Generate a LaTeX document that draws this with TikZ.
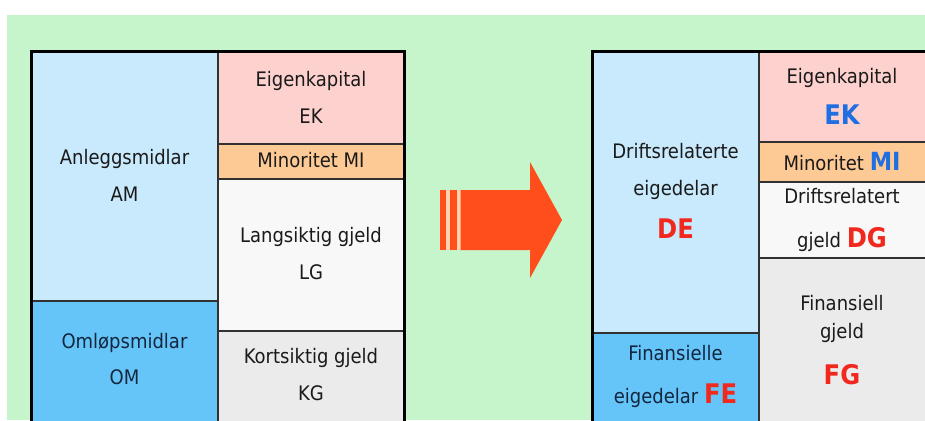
\documentclass[tikz,border=0pt]{standalone}
\usepackage{fontspec}
\setmainfont{DejaVu Sans Condensed}
\definecolor{bg}{HTML}{C6F5CB}
\definecolor{lightblue}{HTML}{C9E9FC}
\definecolor{midblue}{HTML}{66C5F8}
\definecolor{pinkcell}{HTML}{FDD1CE}
\definecolor{orangecell}{HTML}{FDC994}
\definecolor{whitecell}{HTML}{F8F8F8}
\definecolor{graycell}{HTML}{EBEBEB}
\definecolor{ink}{HTML}{1A1A1A}
\definecolor{navyink}{HTML}{13263F}
\definecolor{keyblue}{HTML}{1F6FE3}
\definecolor{keyred}{HTML}{F0281E}
\definecolor{arrowred}{HTML}{FF4E1C}
\definecolor{arrowgap}{HTML}{FFD2AE}
\begin{document}
\begin{tikzpicture}[x=1pt,y=-1pt,
  txt/.style={anchor=base, inner sep=0pt, text=ink, font=\fontsize{20}{20}\selectfont},
  key/.style={font=\fontsize{27}{27}\selectfont\bfseries},
  divider/.style={draw=ink!90, line width=1.6pt},
  frame/.style={draw=black, line width=3pt}]
\useasboundingbox (0,0) rectangle (925,420);
\clip (0,0) rectangle (925,420);
% page background
\fill[white] (0,0) rectangle (925,420);
\fill[bg] (7,15) rectangle (925,420);

% ---------- left balance sheet ----------
\fill[lightblue]  (31,52)  rectangle (218,301);
\fill[midblue]    (31,301) rectangle (218,425);
\fill[pinkcell]   (218,52) rectangle (404,144);
\fill[orangecell] (218,144) rectangle (404,179);
\fill[whitecell]  (218,179) rectangle (404,331);
\fill[graycell]   (218,331) rectangle (404,425);
\draw[divider] (218,52) -- (218,425);
\draw[divider] (31,301) -- (218,301);
\draw[divider] (218,144) -- (404,144);
\draw[divider] (218,179) -- (404,179);
\draw[divider] (218,331) -- (404,331);
\draw[frame] (31,425) -- (31,52) -- (404,52) -- (404,425);

\node[txt] (am1) at (124.5,164) {Anleggsmidlar};
\node[txt] (am2) at (124.5,201) {AM};
\node[txt, text=navyink] (om1) at (124.5,348) {Omløpsmidlar};
\node[txt, text=navyink] (om2) at (124.5,384) {OM};
\node[txt] (ek1) at (311,86) {Eigenkapital};
\node[txt] (ek2) at (311,123) {EK};
\node[txt] (mi1) at (311,167) {Minoritet MI};
\node[txt] (lg1) at (311,242) {Langsiktig gjeld};
\node[txt] (lg2) at (311,279) {LG};
\node[txt] (kg1) at (311,363) {Kortsiktig gjeld};
\node[txt] (kg2) at (311,400) {KG};

% ---------- arrow ----------
\fill[arrowred] (440,190) rectangle (446,250);
\fill[arrowgap] (446,190) rectangle (449.5,250);
\fill[arrowred] (449.5,190) rectangle (456.5,250);
\fill[arrowgap] (456.5,190) rectangle (460.5,250);
\fill[arrowred] (460.5,190) -- (530,190) -- (530,162) -- (562,220)
  -- (530,278) -- (530,250) -- (460.5,250) -- cycle;

% ---------- right balance sheet ----------
\fill[lightblue]  (592,52)  rectangle (759,333);
\fill[midblue]    (592,333) rectangle (759,425);
\fill[pinkcell]   (759,52)  rectangle (930,142);
\fill[orangecell] (759,142) rectangle (930,182);
\fill[whitecell]  (759,182) rectangle (930,258);
\fill[graycell]   (759,258) rectangle (930,425);
\draw[divider] (759,52) -- (759,425);
\draw[divider] (592,333) -- (759,333);
\draw[divider] (759,142) -- (930,142);
\draw[divider] (759,182) -- (930,182);
\draw[divider] (759,258) -- (930,258);
\draw[frame] (592,425) -- (592,52) -- (930,52);

\node[txt] (de1) at (675.5,158) {Driftsrelaterte};
\node[txt] (de2) at (675.5,195) {eigedelar};
\node[txt, key, text=keyred] (de3) at (675.5,238) {DE};
\node[txt, text=navyink] (fe1) at (675.5,360) {Finansielle};
\node[txt, text=navyink] (fe2) at (675.5,403) {eigedelar {\color{keyred}\fontsize{27}{27}\selectfont\bfseries FE}};
\node[txt] (rek1) at (842,83) {Eigenkapital};
\node[txt, key, text=keyblue] (rek2) at (842,124) {EK};
\node[txt] (rmi) at (842,170) {Minoritet {\color{keyblue}\fontsize{25}{25}\selectfont\bfseries MI}};
\node[txt] (dg1) at (842,203) {Driftsrelatert};
\node[txt] (dg2) at (842,247) {gjeld {\color{keyred}\fontsize{27}{27}\selectfont\bfseries DG}};
\node[txt] (fg1) at (842,310) {Finansiell};
\node[txt] (fg2) at (842,338) {gjeld};
\node[txt, key, text=keyred] (fg3) at (842,384) {FG};
\end{tikzpicture}
\end{document}
